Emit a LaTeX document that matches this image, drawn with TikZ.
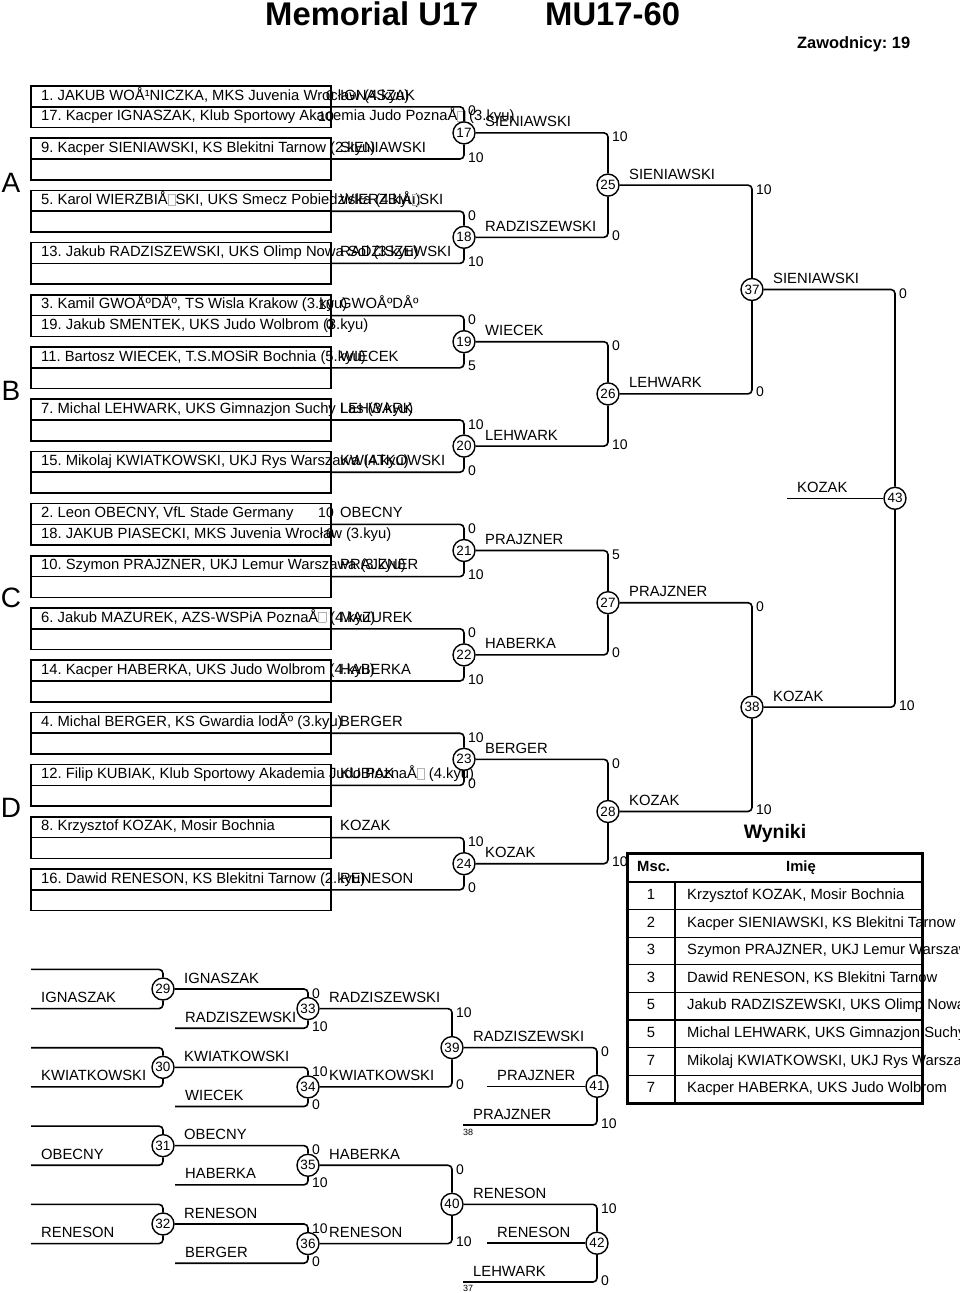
\documentclass[tikz,border=0pt]{standalone}
\usepackage{fontspec}
\setmainfont{Liberation Sans}
\usetikzlibrary{positioning,calc}
\frenchspacing
\newcommand{\nochar}{{\color{black!30}\fboxsep=0pt\fboxrule=0.5pt\fbox{\rule{0pt}{0.66em}\hspace{0.45em}}}}
\newcommand{\duel}[5]{%
  \draw[conn] (#1) -| (#3);
  \draw[conn] (#2) -| (#3);
  \node[score] (#3t) at ($(#3 |- #1)+(4,9)$) {#4};
  \node[score] (#3b) at ($(#3 |- #2)+(4,3)$) {#5};}
\newcommand{\winner}[2]{\node[wlab] (#1w) at ($(#1)+(21,-6)$) {#2};}

\begin{document}
\begin{tikzpicture}[x=1pt,y=-1pt,
  row/.style={draw,line width=1.6pt,minimum width=300pt,minimum height=20.8pt,inner sep=0pt,outer sep=0pt,anchor=north west},
  pname/.style={inner sep=0pt,anchor=west,text height=10.6pt,text depth=3.1pt,font=\fontsize{14.8}{16}\selectfont},
  wlab/.style={inner sep=0pt,anchor=base west,font=\fontsize{14.8}{16}\selectfont},
  score/.style={inner sep=0pt,anchor=base west,font=\fontsize{14}{16}\selectfont},
  tiny/.style={inner sep=0pt,anchor=west,font=\fontsize{9}{10}\selectfont},
  circ/.style={circle,draw,fill=white,line width=1.4pt,minimum size=22pt,inner sep=0pt,font=\fontsize{13.5}{15}\selectfont},
  conn/.style={line width=1.6pt,rounded corners=4pt},
  pool/.style={inner sep=0pt,font=\fontsize{28}{30}\selectfont},
  head/.style={inner sep=0pt,anchor=base west,font=\bfseries\fontsize{32.8}{36}\selectfont},
  cell/.style={inner sep=0pt,text height=10.6pt,text depth=3.1pt,font=\fontsize{14.8}{16}\selectfont}
]
\fill[white,use as bounding box] (0,0) rectangle (960,1293);
\clip (0,0) rectangle (960,1293);

% header
\node[head] (ttl) at (265,25) {Memorial U17};
\node[head] (cat) at (545,25) {MU17-60};
\node[head,font=\bfseries\fontsize{16.4}{18}\selectfont] (cnt) at (797,48.5) {Zawodnicy: 19};

% pools
\node[pool] (pA) at (11,183) {A};
\node[pool] (pB) at (11,391) {B};
\node[pool] (pC) at (11,598) {C};
\node[pool] (pD) at (11,808) {D};

% entries
\foreach \k/\na/\nb/\lab in {
  0/{1. JAKUB WOÅ¹NICZKA, MKS Juvenia Wrocław (4.kyu)}/{17. Kacper IGNASZAK, Klub Sportowy Akademia Judo PoznaÅ\nochar{} (3.kyu)}/IGNASZAK,
  1/{9. Kacper SIENIAWSKI, KS Blekitni Tarnow (2.kyu)}/{}/SIENIAWSKI,
  2/{5. Karol WIERZBIÅ\nochar{}SKI, UKS Smecz Pobiedziska (4.kyu)}/{}/{WIERZBIÅ\nochar{}SKI},
  3/{13. Jakub RADZISZEWSKI, UKS Olimp Nowa Sol (3.kyu)}/{}/RADZISZEWSKI,
  4/{3. Kamil GWOÅºDÅº, TS Wisla Krakow (3.kyu)}/{19. Jakub SMENTEK, UKS Judo Wolbrom (3.kyu)}/{GWOÅºDÅº},
  5/{11. Bartosz WIECEK, T.S.MOSiR Bochnia (5.kyu)}/{}/WIECEK,
  6/{7. Michal LEHWARK, UKS Gimnazjon Suchy Las (3.kyu)}/{}/LEHWARK,
  7/{15. Mikolaj KWIATKOWSKI, UKJ Rys Warszawa (4.kyu)}/{}/KWIATKOWSKI,
  8/{2. Leon OBECNY, VfL Stade Germany}/{18. JAKUB PIASECKI, MKS Juvenia Wrocław (3.kyu)}/OBECNY,
  9/{10. Szymon PRAJZNER, UKJ Lemur Warszawa (3.kyu)}/{}/PRAJZNER,
  10/{6. Jakub MAZUREK, AZS-WSPiA PoznaÅ\nochar{} (4.kyu)}/{}/MAZUREK,
  11/{14. Kacper HABERKA, UKS Judo Wolbrom (4.kyu)}/{}/HABERKA,
  12/{4. Michal BERGER, KS Gwardia lodÅº (3.kyu)}/{}/BERGER,
  13/{12. Filip KUBIAK, Klub Sportowy Akademia Judo PoznaÅ\nochar{} (4.kyu)}/{}/KUBIAK,
  14/{8. Krzysztof KOZAK, Mosir Bochnia}/{}/KOZAK,
  15/{16. Dawid RENESON, KS Blekitni Tarnow (2.kyu)}/{}/RENESON}{
  \node[row] (e\k) at (31,{86+52.2*\k}) {};
  \node[row,below=0pt of e\k] (f\k) {};
  \node[pname,right=10pt of e\k.west] (na\k) {\na};
  \node[pname,right=10pt of f\k.west] (nb\k) {\nb};
  \node[pname,right=9pt of e\k.east] (w\k) {\lab};
}

% preliminary scores
\node[score,anchor=base east] (q0a) at (334,100.2) {0};
\node[score,anchor=base east] (q0b) at (334,121) {10};
\node[score,anchor=base east] (q4a) at (334,309) {10};
\node[score,anchor=base east] (q4b) at (334,329.8) {0};
\node[score,anchor=base east] (q8a) at (334,517.8) {10};
\node[score,anchor=base east] (q8b) at (334,538.6) {0};

% first round
\foreach \j/\sa/\sb/\w in {0/0/10/SIENIAWSKI,1/0/10/RADZISZEWSKI,2/0/5/WIECEK,3/10/0/LEHWARK,
    4/0/10/PRAJZNER,5/0/10/HABERKA,6/10/0/BERGER,7/10/0/KOZAK}{
  \pgfmathtruncatemacro\m{17+\j}
  \pgfmathtruncatemacro\ka{2*\j}
  \pgfmathtruncatemacro\kb{2*\j+1}
  \node[circ] (m\m) at (464,{132.9+104.4*\j}) {\m};
  \duel{e\ka.south east}{e\kb.south east}{m\m}{\sa}{\sb}
  \winner{m\m}{\w}
}

% second round
\node[circ] (m25) at (608,185.1) {25};
\node[circ] (m26) at (608,393.9) {26};
\node[circ] (m27) at (608,602.7) {27};
\node[circ] (m28) at (608,811.5) {28};
\duel{m17}{m18}{m25}{10}{0}
\winner{m25}{SIENIAWSKI}
\duel{m19}{m20}{m26}{0}{10}
\winner{m26}{LEHWARK}
\duel{m21}{m22}{m27}{5}{0}
\winner{m27}{PRAJZNER}
\duel{m23}{m24}{m28}{0}{10}
\winner{m28}{KOZAK}

% semi finals and final
\node[circ] (m37) at (752,289.5) {37};
\node[circ] (m38) at (752,707.1) {38};
\duel{m25}{m26}{m37}{10}{0}
\winner{m37}{SIENIAWSKI}
\duel{m27}{m28}{m38}{0}{10}
\winner{m38}{KOZAK}
\node[circ] (m43) at (895,498.3) {43};
\duel{m37}{m38}{m43}{0}{10}
\coordinate (k43) at (787,498.3);
\draw[conn] (m43) -- (k43);
\node[wlab] (w43) at (797,492.3) {KOZAK};

% repechage
\foreach \i/\n/\who in {0/29/IGNASZAK,1/30/KWIATKOWSKI,2/31/OBECNY,3/32/RENESON}{
  \pgfmathsetmacro\yy{989+78.33*\i}
  \node[circ] (m\n) at (163,\yy) {\n};
  \coordinate (a\n) at (31,{\yy-19.6});
  \coordinate (b\n) at (31,{\yy+19.6});
  \draw[conn] (a\n) -| (m\n);
  \draw[conn] (b\n) -| (m\n);
  \node[wlab] (l\n) at (41,{\yy+13.6}) {\who};
}
\foreach \i/\n/\p/\wa/\lb/\sa/\sb in {0/33/29/IGNASZAK/RADZISZEWSKI/0/10,1/34/30/KWIATKOWSKI/WIECEK/10/0,
    2/35/31/OBECNY/HABERKA/0/10,3/36/32/RENESON/BERGER/10/0}{
  \pgfmathsetmacro\yy{989+78.33*\i}
  \node[circ] (m\n) at (308,{\yy+19.6}) {\n};
  \coordinate (c\n) at (175,{\yy+39.2});
  \duel{m\p}{c\n}{m\n}{\sa}{\sb}
  \winner{m\p}{\wa}
  \node[wlab] (l\n) at (185,{\yy+33.2}) {\lb};
}
\node[circ] (m39) at (452,1047.6) {39};
\node[circ] (m40) at (452,1204.3) {40};
\duel{m33}{m34}{m39}{10}{0}
\winner{m33}{RADZISZEWSKI}
\winner{m34}{KWIATKOWSKI}
\duel{m35}{m36}{m40}{0}{10}
\winner{m35}{HABERKA}
\winner{m36}{RENESON}

\node[circ] (m41) at (597,1086.3) {41};
\coordinate (c41) at (463,1125);
\duel{m39}{c41}{m41}{0}{10}
\winner{m39}{RADZISZEWSKI}
\node[wlab] (l41) at (473,1119) {PRAJZNER};
\node[tiny] (n41) at (463,1132) {38};
\coordinate (k41) at (487,1086.3);
\draw[conn] (m41) -- (k41);
\node[wlab] (w41) at (497,1080.3) {PRAJZNER};

\node[circ] (m42) at (597,1243.2) {42};
\coordinate (c42) at (463,1282);
\duel{m40}{c42}{m42}{10}{0}
\winner{m40}{RENESON}
\node[wlab] (l42) at (473,1276) {LEHWARK};
\node[tiny] (n42) at (463,1288) {37};
\coordinate (k42) at (487,1243.2);
\draw[conn] (m42) -- (k42);
\node[wlab] (w42) at (497,1237.2) {RENESON};

% results
\node[inner sep=0pt,font=\bfseries\fontsize{19.5}{22}\selectfont] (wyn) at (775,833) {Wyniki};
\node[cell,anchor=west,font=\bfseries\fontsize{14.8}{16}\selectfont] (hmsc) at (637,867.5) {Msc.};
\node[cell,font=\bfseries\fontsize{14.8}{16}\selectfont] (himie) at (801,867.5) {Imię};
\foreach \r/\pl/\who in {1/1/{Krzysztof KOZAK, Mosir Bochnia},2/2/{Kacper SIENIAWSKI, KS Blekitni Tarnow},
    3/3/{Szymon PRAJZNER, UKJ Lemur Warszawa},4/3/{Dawid RENESON, KS Blekitni Tarnow},
    5/5/{Jakub RADZISZEWSKI, UKS Olimp Nowa Sol},6/5/{Michal LEHWARK, UKS Gimnazjon Suchy Las},
    7/7/{Mikolaj KWIATKOWSKI, UKJ Rys Warszawa},8/7/{Kacper HABERKA, UKS Judo Wolbrom}}{
  \node[cell] (tp\r) at (651,{882+27.6*(\r-0.5)}) {\pl};
  \node[cell,anchor=west] (tn\r) at (687,{882+27.6*(\r-0.5)}) {\who};
}
\foreach \r in {0,...,7}
  \draw[line width=1.3pt] (627,{882+27.6*\r}) -- (922,{882+27.6*\r});
\draw[line width=1.3pt] (675,882) -- (675,1103);
\draw[line width=3pt] (627,853) rectangle (922,1103);
\end{tikzpicture}
\end{document}
